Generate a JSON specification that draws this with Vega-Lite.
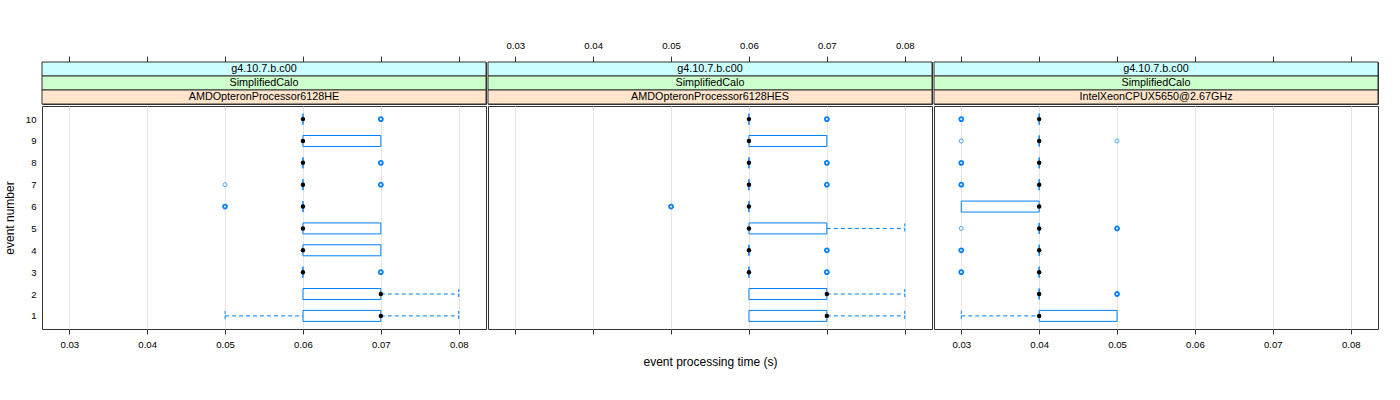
{
  "$schema": "https://vega.github.io/schema/vega-lite/v6.json",
  "background": "white",
  "padding": {"left": 2, "top": 39, "right": 5, "bottom": 5},
  "datasets": {
    "strips": [
      {"panel": "HE", "level": "a", "label": "g4.10.7.b.c00"},
      {"panel": "HE", "level": "b", "label": "SimplifiedCalo"},
      {"panel": "HE", "level": "c", "label": "AMDOpteronProcessor6128HE"},
      {"panel": "HES", "level": "a", "label": "g4.10.7.b.c00"},
      {"panel": "HES", "level": "b", "label": "SimplifiedCalo"},
      {"panel": "HES", "level": "c", "label": "AMDOpteronProcessor6128HES"},
      {"panel": "IX", "level": "a", "label": "g4.10.7.b.c00"},
      {"panel": "IX", "level": "b", "label": "SimplifiedCalo"},
      {"panel": "IX", "level": "c", "label": "IntelXeonCPUX5650@2.67GHz"}
    ],
    "boxes": [
      {"panel": "HE", "event": 10, "lo": 0.06, "q1": 0.06, "med": 0.06, "q3": 0.06, "hi": 0.06},
      {"panel": "HE", "event": 9, "lo": 0.06, "q1": 0.06, "med": 0.06, "q3": 0.07, "hi": 0.07},
      {"panel": "HE", "event": 8, "lo": 0.06, "q1": 0.06, "med": 0.06, "q3": 0.06, "hi": 0.06},
      {"panel": "HE", "event": 7, "lo": 0.06, "q1": 0.06, "med": 0.06, "q3": 0.06, "hi": 0.06},
      {"panel": "HE", "event": 6, "lo": 0.06, "q1": 0.06, "med": 0.06, "q3": 0.06, "hi": 0.06},
      {"panel": "HE", "event": 5, "lo": 0.06, "q1": 0.06, "med": 0.06, "q3": 0.07, "hi": 0.07},
      {"panel": "HE", "event": 4, "lo": 0.06, "q1": 0.06, "med": 0.06, "q3": 0.07, "hi": 0.07},
      {"panel": "HE", "event": 3, "lo": 0.06, "q1": 0.06, "med": 0.06, "q3": 0.06, "hi": 0.06},
      {"panel": "HE", "event": 2, "lo": 0.06, "q1": 0.06, "med": 0.07, "q3": 0.07, "hi": 0.08},
      {"panel": "HE", "event": 1, "lo": 0.05, "q1": 0.06, "med": 0.07, "q3": 0.07, "hi": 0.08},
      {"panel": "HES", "event": 10, "lo": 0.06, "q1": 0.06, "med": 0.06, "q3": 0.06, "hi": 0.06},
      {"panel": "HES", "event": 9, "lo": 0.06, "q1": 0.06, "med": 0.06, "q3": 0.07, "hi": 0.07},
      {"panel": "HES", "event": 8, "lo": 0.06, "q1": 0.06, "med": 0.06, "q3": 0.06, "hi": 0.06},
      {"panel": "HES", "event": 7, "lo": 0.06, "q1": 0.06, "med": 0.06, "q3": 0.06, "hi": 0.06},
      {"panel": "HES", "event": 6, "lo": 0.06, "q1": 0.06, "med": 0.06, "q3": 0.06, "hi": 0.06},
      {"panel": "HES", "event": 5, "lo": 0.06, "q1": 0.06, "med": 0.06, "q3": 0.07, "hi": 0.08},
      {"panel": "HES", "event": 4, "lo": 0.06, "q1": 0.06, "med": 0.06, "q3": 0.06, "hi": 0.06},
      {"panel": "HES", "event": 3, "lo": 0.06, "q1": 0.06, "med": 0.06, "q3": 0.06, "hi": 0.06},
      {"panel": "HES", "event": 2, "lo": 0.06, "q1": 0.06, "med": 0.07, "q3": 0.07, "hi": 0.08},
      {"panel": "HES", "event": 1, "lo": 0.06, "q1": 0.06, "med": 0.07, "q3": 0.07, "hi": 0.08},
      {"panel": "IX", "event": 10, "lo": 0.04, "q1": 0.04, "med": 0.04, "q3": 0.04, "hi": 0.04},
      {"panel": "IX", "event": 9, "lo": 0.04, "q1": 0.04, "med": 0.04, "q3": 0.04, "hi": 0.04},
      {"panel": "IX", "event": 8, "lo": 0.04, "q1": 0.04, "med": 0.04, "q3": 0.04, "hi": 0.04},
      {"panel": "IX", "event": 7, "lo": 0.04, "q1": 0.04, "med": 0.04, "q3": 0.04, "hi": 0.04},
      {"panel": "IX", "event": 6, "lo": 0.03, "q1": 0.03, "med": 0.04, "q3": 0.04, "hi": 0.04},
      {"panel": "IX", "event": 5, "lo": 0.04, "q1": 0.04, "med": 0.04, "q3": 0.04, "hi": 0.04},
      {"panel": "IX", "event": 4, "lo": 0.04, "q1": 0.04, "med": 0.04, "q3": 0.04, "hi": 0.04},
      {"panel": "IX", "event": 3, "lo": 0.04, "q1": 0.04, "med": 0.04, "q3": 0.04, "hi": 0.04},
      {"panel": "IX", "event": 2, "lo": 0.04, "q1": 0.04, "med": 0.04, "q3": 0.04, "hi": 0.04},
      {"panel": "IX", "event": 1, "lo": 0.03, "q1": 0.04, "med": 0.04, "q3": 0.05, "hi": 0.05}
    ],
    "outliers": [
      {"panel": "HE", "event": 10, "t": 0.07, "n": 3},
      {"panel": "HE", "event": 8, "t": 0.07, "n": 3},
      {"panel": "HE", "event": 7, "t": 0.05, "n": 1},
      {"panel": "HE", "event": 7, "t": 0.07, "n": 3},
      {"panel": "HE", "event": 6, "t": 0.05, "n": 3},
      {"panel": "HE", "event": 3, "t": 0.07, "n": 3},
      {"panel": "HES", "event": 10, "t": 0.07, "n": 3},
      {"panel": "HES", "event": 8, "t": 0.07, "n": 3},
      {"panel": "HES", "event": 7, "t": 0.07, "n": 3},
      {"panel": "HES", "event": 6, "t": 0.05, "n": 3},
      {"panel": "HES", "event": 4, "t": 0.07, "n": 3},
      {"panel": "HES", "event": 3, "t": 0.07, "n": 3},
      {"panel": "IX", "event": 10, "t": 0.03, "n": 3},
      {"panel": "IX", "event": 9, "t": 0.03, "n": 1},
      {"panel": "IX", "event": 9, "t": 0.05, "n": 1},
      {"panel": "IX", "event": 8, "t": 0.03, "n": 3},
      {"panel": "IX", "event": 7, "t": 0.03, "n": 3},
      {"panel": "IX", "event": 5, "t": 0.03, "n": 1},
      {"panel": "IX", "event": 5, "t": 0.05, "n": 3},
      {"panel": "IX", "event": 4, "t": 0.03, "n": 3},
      {"panel": "IX", "event": 3, "t": 0.03, "n": 3},
      {"panel": "IX", "event": 2, "t": 0.05, "n": 3}
    ]
  },
  "spacing": 0,
  "hconcat": [
    {
      "spacing": 0,
      "vconcat": [
        {
          "width": 444, "height": 42,
          "layer": [
            {"data": {"name": "strips"}, "transform": [{"filter": "datum.panel == 'HE'"}],
             "mark": {"type": "rect", "stroke": "#333333", "strokeWidth": 1},
             "encoding": {
               "y": {"field": "level", "type": "nominal", "scale": {"domain": ["a", "b", "c"], "paddingInner": 0, "paddingOuter": 0}, "axis": null},
               "fill": {"field": "level", "type": "nominal", "scale": {"domain": ["a", "b", "c"], "range": ["#ccffff", "#ccffcc", "#ffe5cc"]}, "legend": null}}},
            {"data": {"name": "strips"}, "transform": [{"filter": "datum.panel == 'HE'"}],
             "mark": {"type": "text", "fontSize": 10.8, "color": "#000000"},
             "encoding": {"y": {"field": "level", "type": "nominal", "axis": null}, "text": {"field": "label", "type": "nominal"}}},
            {"data": {"name": "boxes"}, "transform": [{"filter": "datum.panel == 'HE'"}],
             "mark": {"type": "point", "opacity": 0},
             "encoding": {"x": {"field": "med", "type": "quantitative", "scale": {"domain": [0.0265, 0.0835], "nice": false, "zero": false},
               "axis": {"orient": "top", "grid": false, "tickSize": 6, "labelPadding": 6, "labelOpacity": 0, "title": null}}}}
          ]
        },
        {
          "width": 444, "height": 223,
          "encoding": {"y": {"field": "event", "type": "quantitative", "scale": {"domain": [0.4, 10.6], "nice": false, "zero": false, "padding": 0},
            "axis": {"values": [1, 2, 3, 4, 5, 6, 7, 8, 9, 10], "title": "event number"}}},
          "layer": [
            {"data": {"name": "boxes"}, "transform": [{"filter": "datum.panel == 'HE' && datum.lo < datum.q1"}],
             "mark": {"type": "rule", "color": "#0080ff", "strokeDash": [4, 3], "strokeWidth": 1},
             "encoding": {"x": {"field": "lo", "type": "quantitative", "scale": {"domain": [0.0265, 0.0835], "nice": false, "zero": false}, "title": null}, "x2": {"field": "q1"}}},
            {"data": {"name": "boxes"}, "transform": [{"filter": "datum.panel == 'HE' && datum.hi > datum.q3"}],
             "mark": {"type": "rule", "color": "#0080ff", "strokeDash": [4, 3], "strokeWidth": 1},
             "encoding": {"x": {"field": "q3", "type": "quantitative", "title": null}, "x2": {"field": "hi"}}},
            {"data": {"name": "boxes"}, "transform": [{"filter": "datum.panel == 'HE' && datum.lo < datum.q1"}],
             "mark": {"type": "point", "shape": "M0,-1L0,1", "filled": false, "color": "#0080ff", "size": 100, "strokeDash": [3, 2], "opacity": 1, "strokeWidth": 1},
             "encoding": {"x": {"field": "lo", "type": "quantitative", "title": null}}},
            {"data": {"name": "boxes"}, "transform": [{"filter": "datum.panel == 'HE' && datum.hi > datum.q3"}],
             "mark": {"type": "point", "shape": "M0,-1L0,1", "filled": false, "color": "#0080ff", "size": 100, "strokeDash": [3, 2], "opacity": 1, "strokeWidth": 1},
             "encoding": {"x": {"field": "hi", "type": "quantitative", "title": null}}},
            {"data": {"name": "boxes"}, "transform": [{"filter": "datum.panel == 'HE'"}],
             "mark": {"type": "bar", "orient": "horizontal", "size": 11, "fill": "transparent", "stroke": "#0080ff", "strokeWidth": 1},
             "encoding": {"x": {"field": "q1", "type": "quantitative", "title": null}, "x2": {"field": "q3"}}},
            {"data": {"name": "outliers"}, "transform": [{"filter": "datum.panel == 'HE'"}],
             "mark": {"type": "point", "shape": "circle", "filled": false, "color": "#0080ff", "size": 16},
             "encoding": {"x": {"field": "t", "type": "quantitative", "title": null},
               "strokeWidth": {"field": "n", "type": "quantitative", "scale": {"domain": [1, 3], "range": [1, 1.8]}, "legend": null},
               "opacity": {"field": "n", "type": "quantitative", "scale": {"domain": [1, 3], "range": [0.7, 1]}, "legend": null}}},
            {"data": {"name": "boxes"}, "transform": [{"filter": "datum.panel == 'HE'"}],
             "mark": {"type": "point", "shape": "circle", "filled": true, "color": "#000000", "size": 20, "opacity": 1},
             "encoding": {"x": {"field": "med", "type": "quantitative", "title": null}}}
          ]
        }
      ]
    },
    {
      "spacing": 0,
      "vconcat": [
        {
          "width": 444, "height": 42,
          "layer": [
            {"data": {"name": "strips"}, "transform": [{"filter": "datum.panel == 'HES'"}],
             "mark": {"type": "rect", "stroke": "#333333", "strokeWidth": 1},
             "encoding": {
               "y": {"field": "level", "type": "nominal", "scale": {"domain": ["a", "b", "c"], "paddingInner": 0, "paddingOuter": 0}, "axis": null},
               "fill": {"field": "level", "type": "nominal", "scale": {"domain": ["a", "b", "c"], "range": ["#ccffff", "#ccffcc", "#ffe5cc"]}, "legend": null}}},
            {"data": {"name": "strips"}, "transform": [{"filter": "datum.panel == 'HES'"}],
             "mark": {"type": "text", "fontSize": 10.8, "color": "#000000"},
             "encoding": {"y": {"field": "level", "type": "nominal", "axis": null}, "text": {"field": "label", "type": "nominal"}}},
            {"data": {"name": "boxes"}, "transform": [{"filter": "datum.panel == 'HES'"}],
             "mark": {"type": "point", "opacity": 0},
             "encoding": {"x": {"field": "med", "type": "quantitative", "scale": {"domain": [0.0265, 0.0835], "nice": false, "zero": false},
               "axis": {"orient": "top", "grid": false, "tickSize": 6, "labelPadding": 6, "labelOpacity": 1, "title": null}}}}
          ]
        },
        {
          "width": 444, "height": 223,
          "encoding": {"y": {"field": "event", "type": "quantitative", "scale": {"domain": [0.4, 10.6], "nice": false, "zero": false, "padding": 0}, "axis": null}},
          "layer": [
            {"data": {"name": "boxes"}, "transform": [{"filter": "datum.panel == 'HES' && datum.lo < datum.q1"}],
             "mark": {"type": "rule", "color": "#0080ff", "strokeDash": [4, 3], "strokeWidth": 1},
             "encoding": {"x": {"field": "lo", "type": "quantitative", "scale": {"domain": [0.0265, 0.0835], "nice": false, "zero": false}, "title": "event processing time (s)", "axis": {"labelOpacity": 0}}, "x2": {"field": "q1"}}},
            {"data": {"name": "boxes"}, "transform": [{"filter": "datum.panel == 'HES' && datum.hi > datum.q3"}],
             "mark": {"type": "rule", "color": "#0080ff", "strokeDash": [4, 3], "strokeWidth": 1},
             "encoding": {"x": {"field": "q3", "type": "quantitative", "title": "event processing time (s)", "axis": {"labelOpacity": 0}}, "x2": {"field": "hi"}}},
            {"data": {"name": "boxes"}, "transform": [{"filter": "datum.panel == 'HES' && datum.lo < datum.q1"}],
             "mark": {"type": "point", "shape": "M0,-1L0,1", "filled": false, "color": "#0080ff", "size": 100, "strokeDash": [3, 2], "opacity": 1, "strokeWidth": 1},
             "encoding": {"x": {"field": "lo", "type": "quantitative", "title": "event processing time (s)", "axis": {"labelOpacity": 0}}}},
            {"data": {"name": "boxes"}, "transform": [{"filter": "datum.panel == 'HES' && datum.hi > datum.q3"}],
             "mark": {"type": "point", "shape": "M0,-1L0,1", "filled": false, "color": "#0080ff", "size": 100, "strokeDash": [3, 2], "opacity": 1, "strokeWidth": 1},
             "encoding": {"x": {"field": "hi", "type": "quantitative", "title": "event processing time (s)", "axis": {"labelOpacity": 0}}}},
            {"data": {"name": "boxes"}, "transform": [{"filter": "datum.panel == 'HES'"}],
             "mark": {"type": "bar", "orient": "horizontal", "size": 11, "fill": "transparent", "stroke": "#0080ff", "strokeWidth": 1},
             "encoding": {"x": {"field": "q1", "type": "quantitative", "title": "event processing time (s)", "axis": {"labelOpacity": 0}}, "x2": {"field": "q3"}}},
            {"data": {"name": "outliers"}, "transform": [{"filter": "datum.panel == 'HES'"}],
             "mark": {"type": "point", "shape": "circle", "filled": false, "color": "#0080ff", "size": 16},
             "encoding": {"x": {"field": "t", "type": "quantitative", "title": "event processing time (s)", "axis": {"labelOpacity": 0}},
               "strokeWidth": {"field": "n", "type": "quantitative", "scale": {"domain": [1, 3], "range": [1, 1.8]}, "legend": null},
               "opacity": {"field": "n", "type": "quantitative", "scale": {"domain": [1, 3], "range": [0.7, 1]}, "legend": null}}},
            {"data": {"name": "boxes"}, "transform": [{"filter": "datum.panel == 'HES'"}],
             "mark": {"type": "point", "shape": "circle", "filled": true, "color": "#000000", "size": 20, "opacity": 1},
             "encoding": {"x": {"field": "med", "type": "quantitative", "title": "event processing time (s)", "axis": {"labelOpacity": 0}}}}
          ]
        }
      ]
    },
    {
      "spacing": 0,
      "vconcat": [
        {
          "width": 444, "height": 42,
          "layer": [
            {"data": {"name": "strips"}, "transform": [{"filter": "datum.panel == 'IX'"}],
             "mark": {"type": "rect", "stroke": "#333333", "strokeWidth": 1},
             "encoding": {
               "y": {"field": "level", "type": "nominal", "scale": {"domain": ["a", "b", "c"], "paddingInner": 0, "paddingOuter": 0}, "axis": null},
               "fill": {"field": "level", "type": "nominal", "scale": {"domain": ["a", "b", "c"], "range": ["#ccffff", "#ccffcc", "#ffe5cc"]}, "legend": null}}},
            {"data": {"name": "strips"}, "transform": [{"filter": "datum.panel == 'IX'"}],
             "mark": {"type": "text", "fontSize": 10.8, "color": "#000000"},
             "encoding": {"y": {"field": "level", "type": "nominal", "axis": null}, "text": {"field": "label", "type": "nominal"}}},
            {"data": {"name": "boxes"}, "transform": [{"filter": "datum.panel == 'IX'"}],
             "mark": {"type": "point", "opacity": 0},
             "encoding": {"x": {"field": "med", "type": "quantitative", "scale": {"domain": [0.0265, 0.0835], "nice": false, "zero": false},
               "axis": {"orient": "top", "grid": false, "tickSize": 6, "labelPadding": 6, "labelOpacity": 0, "title": null}}}}
          ]
        },
        {
          "width": 444, "height": 223,
          "encoding": {"y": {"field": "event", "type": "quantitative", "scale": {"domain": [0.4, 10.6], "nice": false, "zero": false, "padding": 0}, "axis": null}},
          "layer": [
            {"data": {"name": "boxes"}, "transform": [{"filter": "datum.panel == 'IX' && datum.lo < datum.q1"}],
             "mark": {"type": "rule", "color": "#0080ff", "strokeDash": [4, 3], "strokeWidth": 1},
             "encoding": {"x": {"field": "lo", "type": "quantitative", "scale": {"domain": [0.0265, 0.0835], "nice": false, "zero": false}, "title": null}, "x2": {"field": "q1"}}},
            {"data": {"name": "boxes"}, "transform": [{"filter": "datum.panel == 'IX' && datum.hi > datum.q3"}],
             "mark": {"type": "rule", "color": "#0080ff", "strokeDash": [4, 3], "strokeWidth": 1},
             "encoding": {"x": {"field": "q3", "type": "quantitative", "title": null}, "x2": {"field": "hi"}}},
            {"data": {"name": "boxes"}, "transform": [{"filter": "datum.panel == 'IX' && datum.lo < datum.q1"}],
             "mark": {"type": "point", "shape": "M0,-1L0,1", "filled": false, "color": "#0080ff", "size": 100, "strokeDash": [3, 2], "opacity": 1, "strokeWidth": 1},
             "encoding": {"x": {"field": "lo", "type": "quantitative", "title": null}}},
            {"data": {"name": "boxes"}, "transform": [{"filter": "datum.panel == 'IX' && datum.hi > datum.q3"}],
             "mark": {"type": "point", "shape": "M0,-1L0,1", "filled": false, "color": "#0080ff", "size": 100, "strokeDash": [3, 2], "opacity": 1, "strokeWidth": 1},
             "encoding": {"x": {"field": "hi", "type": "quantitative", "title": null}}},
            {"data": {"name": "boxes"}, "transform": [{"filter": "datum.panel == 'IX'"}],
             "mark": {"type": "bar", "orient": "horizontal", "size": 11, "fill": "transparent", "stroke": "#0080ff", "strokeWidth": 1},
             "encoding": {"x": {"field": "q1", "type": "quantitative", "title": null}, "x2": {"field": "q3"}}},
            {"data": {"name": "outliers"}, "transform": [{"filter": "datum.panel == 'IX'"}],
             "mark": {"type": "point", "shape": "circle", "filled": false, "color": "#0080ff", "size": 16},
             "encoding": {"x": {"field": "t", "type": "quantitative", "title": null},
               "strokeWidth": {"field": "n", "type": "quantitative", "scale": {"domain": [1, 3], "range": [1, 1.8]}, "legend": null},
               "opacity": {"field": "n", "type": "quantitative", "scale": {"domain": [1, 3], "range": [0.7, 1]}, "legend": null}}},
            {"data": {"name": "boxes"}, "transform": [{"filter": "datum.panel == 'IX'"}],
             "mark": {"type": "point", "shape": "circle", "filled": true, "color": "#000000", "size": 20, "opacity": 1},
             "encoding": {"x": {"field": "med", "type": "quantitative", "title": null}}}
          ]
        }
      ]
    }
  ],
  "config": {
    "font": "Liberation Sans",
    "view": {"stroke": "#333333", "strokeWidth": 1},
    "axis": {"labelFont": "Liberation Sans", "titleFont": "Liberation Sans", "labelFontSize": 9.6, "titleFontSize": 12, "titleFontWeight": "normal", "labelColor": "#000000", "titleColor": "#000000", "tickColor": "#333333", "domain": false, "gridColor": "#e6e6e6", "gridWidth": 1, "labelFlush": false},
    "axisX": {"tickSize": 5, "labelPadding": 5, "tickCount": 6, "grid": true, "titlePadding": 8},
    "axisY": {"ticks": false, "tickSize": 0, "labelPadding": 6, "grid": false, "titlePadding": 9}
  }
}
